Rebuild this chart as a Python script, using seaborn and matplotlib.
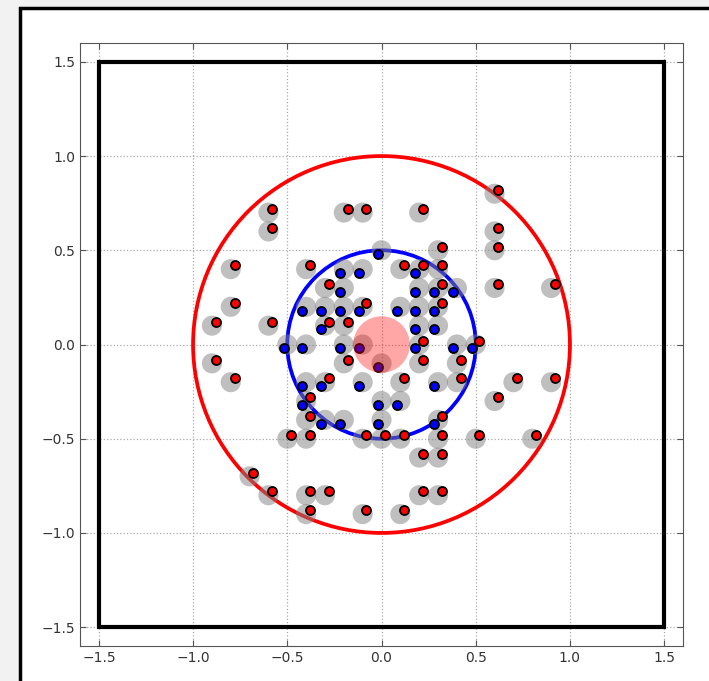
import numpy as np
import pandas as pd
import matplotlib
matplotlib.use("Agg")
import matplotlib.pyplot as plt
from matplotlib.patches import Circle, Rectangle
import seaborn as sns

# grid positions of the samples
red_x = [0.6, -0.6, -0.2, -0.1, 0.2, -0.6, 0.6, 0.3, 0.6, -0.8, -0.4, 0.1, 0.2, 0.3,
         -0.3, 0.3, 0.6, 0.9, -0.8, -0.1, 0.3, -0.9, -0.6, -0.3, -0.2, 0.2, 0.5,
         -0.9, -0.2, 0.2, 0.4, -0.8, -0.3, 0.1, 0.4, 0.7, 0.9, -0.4, 0.6, -0.4, 0.3,
         -0.5, -0.4, -0.1, 0.0, 0.1, 0.3, 0.5, 0.8, 0.2, 0.3, -0.7,
         -0.6, -0.4, -0.3, 0.2, 0.3, -0.4, -0.1, 0.1]
red_y = [0.8, 0.7, 0.7, 0.7, 0.7, 0.6, 0.6, 0.5, 0.5, 0.4, 0.4, 0.4, 0.4, 0.4,
         0.3, 0.3, 0.3, 0.3, 0.2, 0.2, 0.2, 0.1, 0.1, 0.1, 0.1, 0.0, 0.0,
         -0.1, -0.1, -0.1, -0.1, -0.2, -0.2, -0.2, -0.2, -0.2, -0.2, -0.3, -0.3, -0.4, -0.4,
         -0.5, -0.5, -0.5, -0.5, -0.5, -0.5, -0.5, -0.5, -0.6, -0.6, -0.7,
         -0.8, -0.8, -0.8, -0.8, -0.8, -0.9, -0.9, -0.9]

blue_x = [0.0, -0.2, -0.1, 0.2, -0.2, 0.2, 0.3, 0.4,
          -0.4, -0.3, -0.2, -0.1, 0.1, 0.2, 0.3, -0.3, 0.2, 0.3,
          -0.5, -0.4, -0.2, -0.1, 0.2, 0.4, 0.5, 0.0,
          -0.4, -0.3, -0.1, 0.3, -0.4, 0.0, 0.1, -0.3, -0.2, 0.0, 0.3]
blue_y = [0.5, 0.4, 0.4, 0.4, 0.3, 0.3, 0.3, 0.3,
          0.2, 0.2, 0.2, 0.2, 0.2, 0.2, 0.2, 0.1, 0.1, 0.1,
          0.0, 0.0, 0.0, 0.0, 0.0, 0.0, 0.0, -0.1,
          -0.2, -0.2, -0.2, -0.2, -0.3, -0.3, -0.3, -0.4, -0.4, -0.4, -0.4]

outer_r = 1.0
inner_r = 0.5
core_r = 0.15
box_half = 1.5
shift = 0.02

red = pd.DataFrame({"x": red_x, "y": red_y})
blue = pd.DataFrame({"x": blue_x, "y": blue_y})
grey = pd.concat([red, blue]).drop_duplicates()

sns.set_theme(style="ticks", rc={
    "axes.grid": True,
    "grid.linestyle": ":",
    "grid.color": "#aaaaaa",
    "grid.linewidth": 0.9,
    "axes.edgecolor": "#555555",
    "axes.linewidth": 0.8,
    "xtick.direction": "in",
    "ytick.direction": "in",
    "xtick.top": True,
    "ytick.right": True,
    "xtick.color": "#555555",
    "ytick.color": "#555555",
    "xtick.labelcolor": "#333333",
    "ytick.labelcolor": "#333333",
})
plt.rcParams["font.family"] = ["DejaVu Sans"]

fig = plt.figure(figsize=(7.09, 6.81), dpi=100)
fig.patch.set_facecolor("#f2f2f2")
frame = Rectangle((20 / 709, -0.05), 1.1, 1.05 - 8 / 681,
                  transform=fig.transFigure, facecolor="white",
                  edgecolor="black", linewidth=2.5, zorder=-10)
fig.patches.append(frame)
ax = fig.add_axes([80 / 709, 1 - 646 / 681, 603 / 709, 603 / 681])
ax.set_zorder(1)

ax.add_patch(Rectangle((-box_half, -box_half), 2 * box_half, 2 * box_half,
                       fill=False, edgecolor="black", linewidth=3, zorder=2))
ax.add_patch(Circle((0, 0), outer_r, fill=False, edgecolor="red", linewidth=2.7, zorder=2))
ax.add_patch(Circle((0, 0), inner_r, fill=False, edgecolor="blue", linewidth=2.7, zorder=2))

sns.scatterplot(data=grey, x="x", y="y", ax=ax, s=210, color="gray", alpha=0.5,
                edgecolor="none", zorder=3, legend=False)
sns.scatterplot(x=blue["x"] - shift, y=blue["y"] - shift, ax=ax, s=42, color="blue",
                edgecolor="black", linewidth=1.3, zorder=4, legend=False)
sns.scatterplot(x=red["x"] + shift, y=red["y"] + shift, ax=ax, s=42, color="red",
                edgecolor="black", linewidth=1.3, zorder=4, legend=False)

ax.add_patch(Circle((0, 0), core_r, color="red", alpha=0.35, linewidth=0, zorder=5))

ax.set_xlim(-1.6, 1.6)
ax.set_ylim(-1.6, 1.6)
ax.set_xticks(np.arange(-1.5, 1.51, 0.5))
ax.set_yticks(np.arange(-1.5, 1.51, 0.5))
ax.set_xlabel("")
ax.set_ylabel("")
ax.tick_params(labelsize=10, length=4, width=0.8)
ax.set_facecolor("white")

fig.savefig("out.png", dpi=100)
